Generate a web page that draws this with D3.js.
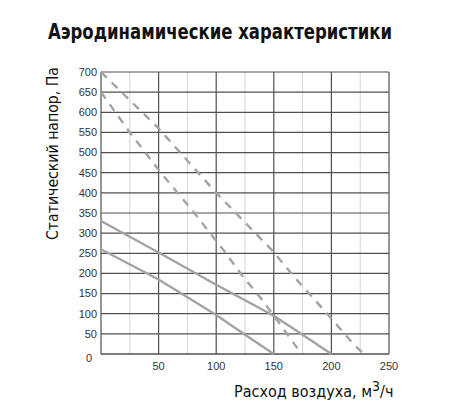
<!DOCTYPE html>
<html lang="ru">
<head>
  <meta charset="UTF-8">
  <title>Аэродинамические характеристики</title>
  <script src="https://d3js.org/d3.v7.min.js"></script>
  <style>
    body {
      margin: 0;
      padding: 0;
      background-color: #fff;
    }
    .tick-label {
      font-family: "Liberation Sans", Arial, sans-serif;
      font-size: 11px;
      fill: #333;
    }
    .narrow {
      font-family: "Liberation Sans Narrow", "DejaVu Sans Condensed", "Liberation Sans", sans-serif;
    }
  </style>
</head>
<body>
  <svg id="chart"></svg>

  <script>
    // Axis ticks
    const xTicks = [50, 100, 150, 200, 250];
    const yTicks = [0, 50, 100, 150, 200, 250, 300, 350, 400, 450, 500, 550, 600, 650, 700];
    const xMinorGrid = [25, 75, 125, 175, 225];
    const xMajorGrid = [50, 100, 150, 200];

    // Curves (flow m3/h, pressure Pa)
    const dashedUpperFlow = [0, 50, 100, 134, 148, 170, 196, 220, 228];
    const dashedUpperPres = [700, 560, 400, 300, 259, 184, 101, 22, 0];
    const dashedLowerFlow = [0, 25, 52, 81, 106, 123, 140, 160, 174];
    const dashedLowerPres = [650, 550, 450, 350, 259, 193, 134, 56, 0];
    const solidUpperFlow = [0, 50, 100, 150, 175, 200];
    const solidUpperPres = [330, 252, 172, 95, 48, 0];
    const solidLowerFlow = [0, 50, 100, 125, 150];
    const solidLowerPres = [260, 185, 97, 48, 0];

    const width = 450, height = 415;
    const margin = { top: 72, right: 61, bottom: 61, left: 101 };

    const svg = d3.select("#chart")
      .attr("width", width)
      .attr("height", height);

    const x = d3.scaleLinear().domain([0, 250]).range([margin.left, width - margin.right]);
    const y = d3.scaleLinear().domain([0, 700]).range([height - margin.bottom, margin.top]);

    // Title
    svg.append("text")
      .attr("class", "narrow")
      .attr("x", 48)
      .attr("y", 38.5)
      .attr("textLength", 344)
      .attr("lengthAdjust", "spacingAndGlyphs")
      .attr("font-size", "21px")
      .attr("font-weight", "bold")
      .attr("fill", "#111")
      .text("Аэродинамические характеристики");

    // Grid
    const grid = svg.append("g");
    grid.selectAll("line.minor")
      .data(xMinorGrid)
      .join("line")
      .attr("class", "minor")
      .attr("x1", d => x(d)).attr("x2", d => x(d))
      .attr("y1", y(0)).attr("y2", y(700))
      .attr("stroke", "#d4d4d4")
      .attr("stroke-width", 1);

    grid.selectAll("line.major")
      .data(xMajorGrid)
      .join("line")
      .attr("class", "major")
      .attr("x1", d => x(d)).attr("x2", d => x(d))
      .attr("y1", y(0)).attr("y2", y(700))
      .attr("stroke", "#505050")
      .attr("stroke-width", 1.2);

    grid.selectAll("line.h")
      .data(yTicks.filter(d => d > 0))
      .join("line")
      .attr("class", "h")
      .attr("x1", x(0)).attr("x2", x(250))
      .attr("y1", d => y(d)).attr("y2", d => y(d))
      .attr("stroke", "#505050")
      .attr("stroke-width", 1.2);

    // Frame: left, right, bottom
    svg.append("line")
      .attr("x1", x(0)).attr("x2", x(0)).attr("y1", y(0)).attr("y2", y(700))
      .attr("stroke", "#505050").attr("stroke-width", 1.2);
    svg.append("line")
      .attr("x1", x(250)).attr("x2", x(250)).attr("y1", y(0)).attr("y2", y(700))
      .attr("stroke", "#505050").attr("stroke-width", 1.2);
    svg.append("line")
      .attr("x1", x(0)).attr("x2", x(250)).attr("y1", y(0)).attr("y2", y(0))
      .attr("stroke", "#505050").attr("stroke-width", 1.4);

    // Curves
    const line = d3.line().x(d => x(d[0])).y(d => y(d[1]));
    const curves = [
      { flow: dashedUpperFlow, pres: dashedUpperPres, dash: "8,7" },
      { flow: dashedLowerFlow, pres: dashedLowerPres, dash: "8,7" },
      { flow: solidUpperFlow, pres: solidUpperPres, dash: null },
      { flow: solidLowerFlow, pres: solidLowerPres, dash: null }
    ];
    svg.selectAll("path.curve")
      .data(curves)
      .join("path")
      .attr("class", "curve")
      .attr("d", c => line(c.flow.map((f, i) => [f, c.pres[i]])))
      .attr("fill", "none")
      .attr("stroke", "#a3a3a3")
      .attr("stroke-width", 2.4)
      .attr("stroke-dasharray", c => c.dash);

    // Y tick labels
    svg.selectAll("text.ytick")
      .data(yTicks)
      .join("text")
      .attr("class", "tick-label ytick")
      .attr("x", d => d === 0 ? x(0) - 9 : x(0) - 4)
      .attr("y", d => d === 0 ? y(d) + 4 : y(d))
      .attr("dy", "0.35em")
      .attr("text-anchor", "end")
      .text(d => d);

    // X tick labels
    svg.selectAll("text.xtick")
      .data(xTicks)
      .join("text")
      .attr("class", "tick-label xtick")
      .attr("x", d => x(d))
      .attr("y", y(0) + 8)
      .attr("dy", "0.71em")
      .attr("text-anchor", "middle")
      .text(d => d);

    // Y axis title
    svg.append("text")
      .attr("class", "narrow")
      .attr("transform", "translate(57.5,240) rotate(-90)")
      .attr("textLength", 173)
      .attr("lengthAdjust", "spacingAndGlyphs")
      .attr("font-size", "16px")
      .attr("fill", "#111")
      .text("Статический напор, Па");

    // X axis title with superscript
    const xt = svg.append("text")
      .attr("class", "narrow")
      .attr("x", 234)
      .attr("y", 397)
      .attr("font-size", "16px")
      .attr("fill", "#111");
    xt.append("tspan").text("Расход воздуха, м");
    xt.append("tspan").attr("dy", -6).attr("font-size", "14px").text("3");
    xt.append("tspan").attr("dy", 6).text("/ч");
  </script>
</body>
</html>
